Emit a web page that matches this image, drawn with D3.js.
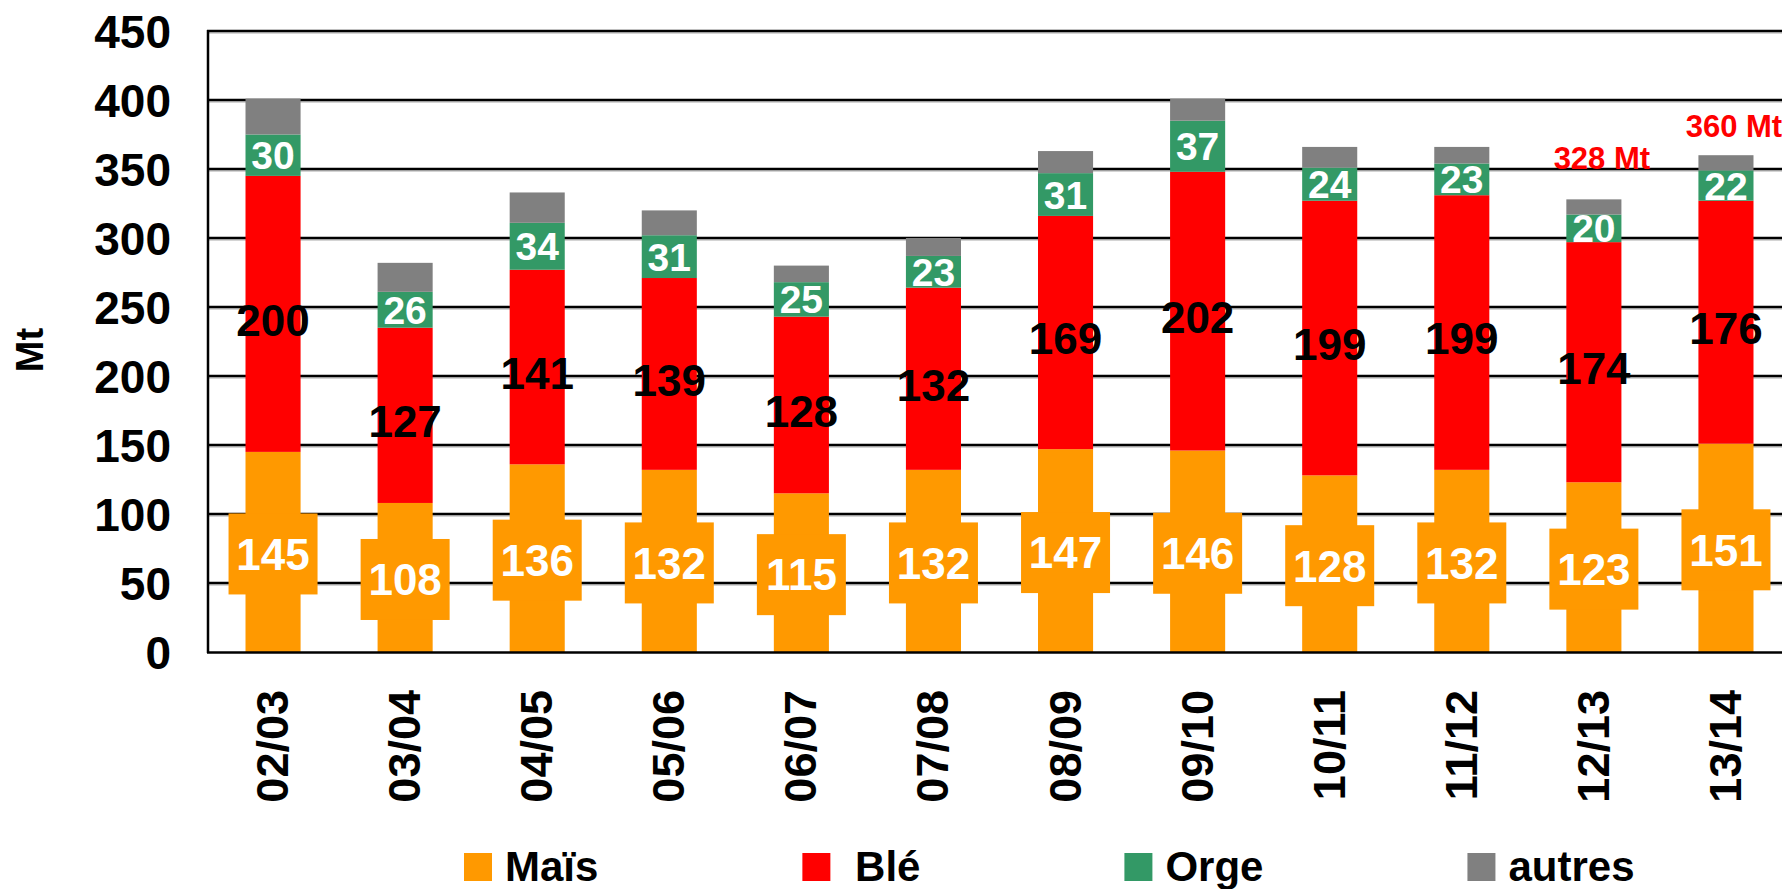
<!DOCTYPE html>
<html>
<head>
<meta charset="utf-8">
<script src="https://cdn.jsdelivr.net/npm/d3@7/dist/d3.min.js"></script>
<style>
  body { margin: 0; background: #fff; }
  svg { display: block; }
  text { font-family: "Liberation Sans", Arial, sans-serif; font-weight: bold; }
</style>
</head>
<body>
<svg id="chart" width="1782" height="889"></svg>
<script>
// campaign years
const campagnes = ["02/03", "03/04", "04/05", "05/06", "06/07", "07/08", "08/09", "09/10", "10/11", "11/12", "12/13", "13/14"];
// production, Mt
const mais   = [145, 108, 136, 132, 115, 132, 147, 146, 128, 132, 123, 151];
const ble    = [200, 127, 141, 139, 128, 132, 169, 202, 199, 199, 174, 176];
const orge   = [30, 26, 34, 31, 25, 23, 31, 37, 24, 23, 20, 22];
const autres = [26, 21, 22, 18, 12, 13, 16, 16, 15, 12, 11, 11];
const yTicks = [0, 50, 100, 150, 200, 250, 300, 350, 400, 450];
const seriesNames = ["Maïs", "Blé", "Orge", "autres"];
const seriesColors = ["#FF9900", "#FF0000", "#339966", "#808080"];
// red totals written above the last two bars
const totalNotes = [
    { campagne: "12/13", text: "328 Mt", at: 350 },
    { campagne: "13/14", text: "360 Mt", at: 373 }
];

const svg = d3.select("#chart");

const x = d3.scaleBand()
    .domain(campagnes)
    .range([207, 1792])
    .paddingInner(0.583)
    .paddingOuter(0.2915);

const y = d3.scaleLinear()
    .domain([0, 450])
    .range([652, 31]);

const rows = campagnes.map((c, i) => ({
    campagne: c, "Maïs": mais[i], "Blé": ble[i], "Orge": orge[i], "autres": autres[i]
}));
const stacked = d3.stack().keys(seriesNames)(rows);

// gridlines (with the little grey shadow underneath)
const grid = svg.append("g");
yTicks.filter(t => t > 0).forEach(t => {
    grid.append("line")
        .attr("x1", 207).attr("x2", 1782)
        .attr("y1", y(t) + 2).attr("y2", y(t) + 2)
        .attr("stroke", "#aaa").attr("stroke-width", 1.2);
    grid.append("line")
        .attr("x1", 207).attr("x2", 1782)
        .attr("y1", y(t)).attr("y2", y(t))
        .attr("stroke", "#000").attr("stroke-width", 2.5);
});

// bars
svg.append("g").selectAll("g")
    .data(stacked)
    .join("g")
    .attr("fill", (d, i) => seriesColors[i])
    .selectAll("rect")
    .data(d => d)
    .join("rect")
    .attr("x", d => x(d.data.campagne))
    .attr("width", x.bandwidth())
    .attr("y", d => y(d[1]))
    .attr("height", d => y(d[0]) - y(d[1]));

// axes lines
svg.append("line")
    .attr("x1", 208).attr("x2", 208).attr("y1", 30).attr("y2", 653)
    .attr("stroke", "#000").attr("stroke-width", 2.5);
svg.append("line")
    .attr("x1", 207).attr("x2", 1782).attr("y1", 652.5).attr("y2", 652.5)
    .attr("stroke", "#000").attr("stroke-width", 2.5);

// Maïs labels: white on an orange box wider than the bar
const maisLayer = stacked[0];
const mg = svg.append("g").selectAll("g")
    .data(maisLayer)
    .join("g")
    .attr("transform", d => `translate(${x(d.data.campagne) + x.bandwidth() / 2},${y((d[0] + d[1]) / 2) + 2})`);
mg.append("rect")
    .attr("x", -44.5).attr("y", -40.5)
    .attr("width", 89).attr("height", 81)
    .attr("fill", seriesColors[0]);
mg.append("text")
    .attr("text-anchor", "middle")
    .attr("dy", "0.36em")
    .attr("fill", "#fff")
    .style("font-size", "44px")
    .text(d => d.data["Maïs"]);

// Blé labels: black, no box
svg.append("g").selectAll("text")
    .data(stacked[1])
    .join("text")
    .attr("x", d => x(d.data.campagne) + x.bandwidth() / 2)
    .attr("y", d => y((d[0] + d[1]) / 2) + 6)
    .attr("dy", "0.36em")
    .attr("text-anchor", "middle")
    .attr("fill", "#000")
    .style("font-size", "44px")
    .text(d => d.data["Blé"]);

// Orge labels: white inside the green segment
svg.append("g").selectAll("text")
    .data(stacked[2])
    .join("text")
    .attr("x", d => x(d.data.campagne) + x.bandwidth() / 2)
    .attr("y", d => y((d[0] + d[1]) / 2))
    .attr("dy", "0.36em")
    .attr("text-anchor", "middle")
    .attr("fill", "#fff")
    .style("font-size", "39px")
    .text(d => d.data["Orge"]);

// y tick labels
svg.append("g").selectAll("text")
    .data(yTicks)
    .join("text")
    .attr("x", 171)
    .attr("y", d => y(d))
    .attr("dy", "0.36em")
    .attr("text-anchor", "end")
    .style("font-size", "46px")
    .text(d => d);

// y axis title
svg.append("text")
    .attr("transform", "translate(43,350) rotate(-90)")
    .attr("text-anchor", "middle")
    .style("font-size", "38px")
    .text("Mt");

// x labels, vertical
svg.append("g").selectAll("text")
    .data(campagnes)
    .join("text")
    .attr("transform", d => `translate(${x(d) + x.bandwidth() / 2 + 15},690) rotate(-90)`)
    .attr("text-anchor", "end")
    .style("font-size", "45px")
    .text(d => d);

// red totals
svg.append("g").selectAll("text")
    .data(totalNotes)
    .join("text")
    .attr("x", d => x(d.campagne) + x.bandwidth() / 2 + 8)
    .attr("y", d => y(d.at))
    .attr("text-anchor", "middle")
    .attr("fill", "#FF0000")
    .style("font-size", "31px")
    .text(d => d.text);

// legend: square, label, fixed gap after each label
const legend = svg.append("g");
let lx = 464;
seriesNames.forEach((name, i) => {
    legend.append("rect")
        .attr("x", lx).attr("y", 853)
        .attr("width", 28).attr("height", 28)
        .attr("fill", seriesColors[i]);
    const t = legend.append("text")
        .attr("x", lx + 41).attr("y", 881)
        .style("font-size", "42px")
        .attr("xml:space", "preserve")
        .style("white-space", "pre")
        .text(name === "Blé" ? " Blé" : name);
    lx += 41 + t.node().getComputedTextLength() + 204;
});
</script>
</body>
</html>
